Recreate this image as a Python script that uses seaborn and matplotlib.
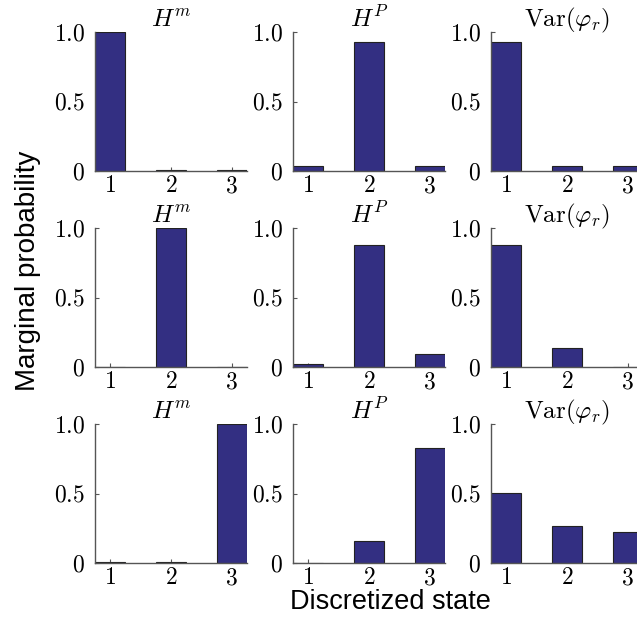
import matplotlib
matplotlib.use("Agg")
import matplotlib.pyplot as plt
import seaborn as sns
import pandas as pd

# ---- data ----
states = ["1", "2", "3"]
titles = [r"$H^m$", r"$H^P$", r"$\mathrm{Var}(\varphi_r)$"]
ytick_vals = [0, 0.5, 1.0]
ytick_labels = [r"$0$", r"$0.5$", r"$1.0$"]
xtick_labels = [r"$1$", r"$2$", r"$3$"]

row1_Hm = [1.0, 0.006, 0.004]
row1_HP = [0.035, 0.93, 0.035]
row1_Var = [0.93, 0.035, 0.035]

row2_Hm = [0.0, 1.0, 0.0]
row2_HP = [0.02, 0.877, 0.094]
row2_Var = [0.877, 0.137, 0.0]

row3_Hm = [0.004, 0.004, 1.0]
row3_HP = [0.0, 0.158, 0.827]
row3_Var = [0.504, 0.266, 0.223]

grid = [[row1_Hm, row1_HP, row1_Var],
        [row2_Hm, row2_HP, row2_Var],
        [row3_Hm, row3_HP, row3_Var]]

ylabel = "Marginal probability"
xlabel = "Discretized state"

# ---- style ----
sns.set_style("white")
plt.rcParams["mathtext.fontset"] = "cm"
plt.rcParams["font.family"] = ["Liberation Sans", "DejaVu Sans"]

W, H = 637, 621
fig = plt.figure(figsize=(W / 100, H / 100), dpi=100)

bar_color = "#332F82"
col_left = [95, 293, 491]
row_top = [32, 228, 424]
ax_w, ax_h = 152, 139

for r in range(3):
    for c in range(3):
        left = col_left[c] / W
        bottom = 1 - (row_top[r] + ax_h) / H
        ax = fig.add_axes([left, bottom, ax_w / W, ax_h / H])
        df = pd.DataFrame({"state": states, "p": grid[r][c]})
        sns.barplot(data=df, x="state", y="p", color=bar_color, saturation=1,
                    width=0.5, edgecolor="#222222", linewidth=0.8, ax=ax)
        ax.set_xlim(-0.25, 2.25)
        ax.set_ylim(0, 1.0)
        ax.set_yticks(ytick_vals)
        ax.set_yticklabels(ytick_labels, fontsize=17, color="black")
        ax.set_xticks(range(len(states)))
        ax.set_xticklabels(xtick_labels, fontsize=17, color="black")
        ax.set_xlabel("")
        ax.set_ylabel("")
        ax.set_title(titles[c], fontsize=18, pad=4, color="black")
        for s in ["top", "right"]:
            ax.spines[s].set_visible(False)
        for s in ["left", "bottom"]:
            ax.spines[s].set_color("#555555")
            ax.spines[s].set_linewidth(1.0)
        ax.tick_params(axis="both", direction="in", length=3, width=0.8,
                       color="#555555", left=True, bottom=True)
        ax.tick_params(axis="y", pad=7)
        ax.tick_params(axis="x", pad=3)

fig.text(28 / W, 1 - 271 / H, ylabel, rotation=90, ha="center", va="center",
         fontsize=20, color="black")
fig.text(390 / W, 1 - 602 / H, xlabel, ha="center", va="center", fontsize=19.5,
         color="black")

fig.savefig("out.png", dpi=100)
